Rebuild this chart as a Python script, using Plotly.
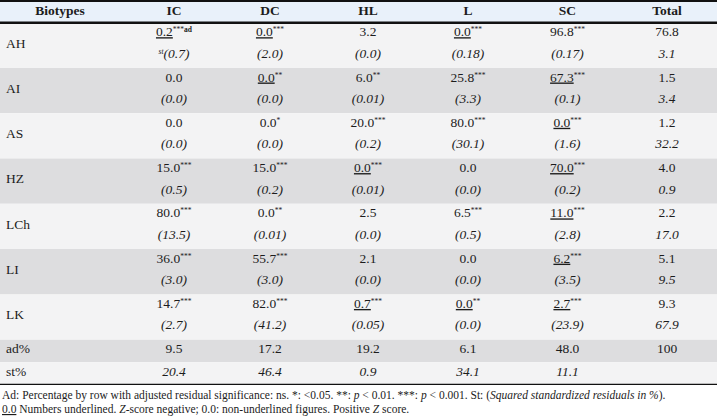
import plotly.graph_objects as go

# ---------------- data ----------------
columns = ["IC", "DC", "HL", "L", "SC", "Total"]
biotypes = ["AH", "AI", "AS", "HZ", "LCh", "LI", "LK"]

# percentage by row (ad), significance stars, negative Z (underlined), squared std residuals (st)
ad_AH = ["0.2", "0.0", "3.2", "0.0", "96.8", "76.8"]
sig_AH = ["***", "***", "", "***", "***", ""]
neg_AH = [1, 1, 0, 1, 0, 0]
st_AH = ["0.7", "2.0", "0.0", "0.18", "0.17", "3.1"]

ad_AI = ["0.0", "0.0", "6.0", "25.8", "67.3", "1.5"]
sig_AI = ["", "**", "**", "***", "***", ""]
neg_AI = [0, 1, 0, 0, 1, 0]
st_AI = ["0.0", "0.0", "0.01", "3.3", "0.1", "3.4"]

ad_AS = ["0.0", "0.0", "20.0", "80.0", "0.0", "1.2"]
sig_AS = ["", "*", "***", "***", "***", ""]
neg_AS = [0, 0, 0, 0, 1, 0]
st_AS = ["0.0", "0.0", "0.2", "30.1", "1.6", "32.2"]

ad_HZ = ["15.0", "15.0", "0.0", "0.0", "70.0", "4.0"]
sig_HZ = ["***", "***", "***", "", "***", ""]
neg_HZ = [0, 0, 1, 0, 1, 0]
st_HZ = ["0.5", "0.2", "0.01", "0.0", "0.2", "0.9"]

ad_LCh = ["80.0", "0.0", "2.5", "6.5", "11.0", "2.2"]
sig_LCh = ["***", "**", "", "***", "***", ""]
neg_LCh = [0, 0, 0, 0, 1, 0]
st_LCh = ["13.5", "0.01", "0.0", "0.5", "2.8", "17.0"]

ad_LI = ["36.0", "55.7", "2.1", "0.0", "6.2", "5.1"]
sig_LI = ["***", "***", "", "", "***", ""]
neg_LI = [0, 0, 0, 0, 1, 0]
st_LI = ["3.0", "3.0", "0.0", "0.0", "3.5", "9.5"]

ad_LK = ["14.7", "82.0", "0.7", "0.0", "2.7", "9.3"]
sig_LK = ["***", "***", "***", "**", "***", ""]
neg_LK = [0, 0, 1, 1, 1, 0]
st_LK = ["2.7", "41.2", "0.05", "0.0", "23.9", "67.9"]

ad_pct = ["9.5", "17.2", "19.2", "6.1", "48.0", "100"]
st_pct = ["20.4", "46.4", "0.9", "34.1", "11.1", ""]

first_ad_note = "ad"
first_st_note = "st"

header_label = "Biotypes"
summary_labels = ["ad%", "st%"]

footnote1 = ("Ad: Percentage by row with adjusted residual significance: ns. *: &lt;0.05. **: <i>p</i> &lt; 0.01. "
             "***: <i>p</i> &lt; 0.001. St: (<i>Squared standardized residuals in %</i>).")
footnote2 = ("<u>0.0</u> Numbers underlined. <i>Z</i>-score negative; 0.0: non-underlined figures. "
             "Positive <i>Z</i> score.")

# ---------------- layout constants ----------------
W, H = 717, 417
col_widths = [126, 96, 96, 100, 100, 99, 100]
FONT = "Liberation Serif, Times New Roman, serif"
TXT = "#1c1c1c"
FS = 13.5
SUP = '<span style="font-size:7.5px;baseline-shift:4.5px">%s</span>'
LIGHT = "#f3f3f4"
GRAY = "#dddddf"
HEAD = "#e9f1fa"

ad_rows = [ad_AH, ad_AI, ad_AS, ad_HZ, ad_LCh, ad_LI, ad_LK]
sig_rows = [sig_AH, sig_AI, sig_AS, sig_HZ, sig_LCh, sig_LI, sig_LK]
neg_rows = [neg_AH, neg_AI, neg_AS, neg_HZ, neg_LCh, neg_LI, neg_LK]
st_rows = [st_AH, st_AI, st_AS, st_HZ, st_LCh, st_LI, st_LK]

# column centers from widths
edges = [0]
for w in col_widths:
    edges.append(edges[-1] + w)
centers = [(edges[i] + edges[i + 1]) / 2 for i in range(len(col_widths))]
data_x = centers[1:]

n_lines = 1 + 2 * len(biotypes) + 2  # header + two lines per biotype + ad%/st%

fig = go.Figure()

# backgrounds
shapes = []
shapes.append(dict(type="rect", xref="paper", yref="y", x0=0, x1=1, y0=0, y1=1,
                   fillcolor=HEAD, line_width=0, layer="below"))
for i in range(len(biotypes)):
    y0 = 1 + 2 * i
    shapes.append(dict(type="rect", xref="paper", yref="y", x0=0, x1=1, y0=y0, y1=y0 + 2,
                       fillcolor=LIGHT if i % 2 == 0 else GRAY, line_width=0, layer="below"))
ys = 1 + 2 * len(biotypes)
shapes.append(dict(type="rect", xref="paper", yref="y", x0=0, x1=1, y0=ys, y1=ys + 1,
                   fillcolor=GRAY, line_width=0, layer="below"))
shapes.append(dict(type="rect", xref="paper", yref="y", x0=0, x1=1, y0=ys + 1, y1=ys + 2,
                   fillcolor=LIGHT, line_width=0, layer="below"))
# rules
shapes.append(dict(type="line", xref="paper", yref="y", x0=0, x1=1, y0=0, y1=0,
                   line=dict(color="#111111", width=4)))
shapes.append(dict(type="line", xref="paper", yref="y", x0=0, x1=1, y0=1, y1=1,
                   line=dict(color="#111111", width=2.5)))
shapes.append(dict(type="line", xref="paper", yref="y", x0=0, x1=1, y0=n_lines, y1=n_lines,
                   line=dict(color="#111111", width=2.5)))

# header
fig.add_trace(go.Scatter(
    x=[centers[0] - 3] + data_x, y=[0.5] * (len(columns) + 1), mode="text",
    text=["<b>%s</b>" % header_label] + ["<b>%s</b>" % c for c in columns],
    textposition="middle center", textfont=dict(family=FONT, size=FS, color=TXT),
    hoverinfo="skip", showlegend=False))

# biotype rows
vx, vy, vt, sx, sy, stt = [], [], [], [], [], []
for i, b in enumerate(biotypes):
    base = 1 + 2 * i
    for j, c in enumerate(columns):
        v = ad_rows[i][j]
        s = sig_rows[i][j]
        if i == 0 and j == 0:
            s = s + "<b>%s</b>" % first_ad_note
        t = "<u>%s</u>" % v if neg_rows[i][j] else v
        if s:
            t += SUP % s
        vx.append(data_x[j]); vy.append(base + 0.45); vt.append(t)
        stv = st_rows[i][j]
        if c == "Total":
            st_t = "<i>%s</i>" % stv
        else:
            st_t = "<i>(%s)</i>" % stv
        if i == 0 and j == 0:
            st_t = (SUP % ("<i>%s</i>" % first_st_note)) + st_t
        sx.append(data_x[j]); sy.append(base + 1.4); stt.append(st_t)

fig.add_trace(go.Scatter(x=vx, y=vy, text=vt, mode="text", textposition="middle center",
                         textfont=dict(family=FONT, size=FS, color=TXT),
                         hoverinfo="skip", showlegend=False))
fig.add_trace(go.Scatter(x=sx, y=sy, text=stt, mode="text", textposition="middle center",
                         textfont=dict(family=FONT, size=FS, color=TXT),
                         hoverinfo="skip", showlegend=False))

# summary rows
fig.add_trace(go.Scatter(x=data_x, y=[ys + 0.45] * len(columns), text=ad_pct, mode="text",
                         textposition="middle center",
                         textfont=dict(family=FONT, size=FS, color=TXT),
                         hoverinfo="skip", showlegend=False))
st_x = [x for x, v in zip(data_x, st_pct) if v]
st_txt = ["<i>%s</i>" % v for v in st_pct if v]
fig.add_trace(go.Scatter(x=st_x, y=[ys + 1.45] * len(st_x), text=st_txt, mode="text",
                         textposition="middle center",
                         textfont=dict(family=FONT, size=FS, color=TXT),
                         hoverinfo="skip", showlegend=False))

# row labels
label_y = [1 + 2 * i + 0.95 for i in range(len(biotypes))] + [ys + 0.45, ys + 1.45]
fig.add_trace(go.Scatter(x=[6] * len(label_y), y=label_y, text=biotypes + summary_labels,
                         mode="text", textposition="middle right",
                         textfont=dict(family=FONT, size=FS, color=TXT),
                         hoverinfo="skip", showlegend=False))

bottom_px = 32
plot_h = H - bottom_px
annotations = [
    dict(xref="paper", yref="paper", x=0, y=-(395 - plot_h) / plot_h, xanchor="left", yanchor="middle",
         text=footnote1, showarrow=False, font=dict(family=FONT, size=11.5, color=TXT)),
    dict(xref="paper", yref="paper", x=0, y=-(410 - plot_h) / plot_h, xanchor="left", yanchor="middle",
         text=footnote2, showarrow=False, font=dict(family=FONT, size=11.5, color=TXT)),
]

fig.update_layout(
    width=W, height=H, margin=dict(l=0, r=0, t=0, b=bottom_px),
    paper_bgcolor="white", plot_bgcolor="white",
    xaxis=dict(range=[0, W], visible=False, fixedrange=True),
    yaxis=dict(range=[n_lines, 0], visible=False, fixedrange=True),
    shapes=shapes, annotations=annotations, hovermode=False, showlegend=False,
)

fig.write_html("out.html", config={"displayModeBar": False},
               post_script="document.body.style.margin='0';document.body.style.padding='0';")
